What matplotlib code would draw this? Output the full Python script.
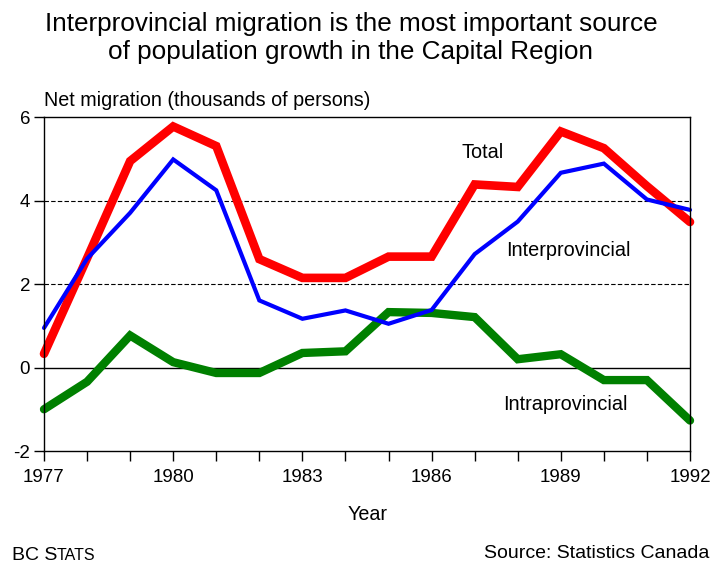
import matplotlib
matplotlib.use("Agg")
import matplotlib.pyplot as plt
from matplotlib.ticker import MultipleLocator, FixedLocator

plt.rcParams['font.family'] = ['Liberation Sans', 'DejaVu Sans']
plt.rcParams['axes.unicode_minus'] = False

years = list(range(1977, 1993))
total = [0.33, 2.62, 4.95, 5.78, 5.31, 2.6, 2.15, 2.15, 2.66, 2.66, 4.39, 4.33, 5.66, 5.26, 4.35, 3.49]
interprovincial = [0.95, 2.61, 3.71, 4.99, 4.25, 1.61, 1.17, 1.37, 1.05, 1.38, 2.72, 3.5, 4.67, 4.89, 4.03, 3.78]
intraprovincial = [-1.0, -0.34, 0.77, 0.13, -0.13, -0.13, 0.35, 0.39, 1.33, 1.31, 1.21, 0.2, 0.32, -0.3, -0.3, -1.27]
ytick_vals = [-2, 0, 2, 4, 6]
xtick_labels = [1977, 1980, 1983, 1986, 1989, 1992]

fig = plt.figure(figsize=(7.11, 5.65), dpi=100)
ax = fig.add_axes([44/711, 1-451/565, (690-44)/711, (451-117.3)/565])

ax.axhline(0, color='black', lw=1.0, zorder=1)
for v in (2, 4):
    ax.axhline(v, color='black', lw=0.8, ls=(0, (4, 2)), zorder=1)

kw = dict(solid_capstyle='round', solid_joinstyle='miter', clip_on=False)
ax.plot(years, total, color='#ff0000', lw=6.2, zorder=3, **kw)
ax.plot(years, intraprovincial, color='#008000', lw=6, zorder=4, **kw)
ax.plot(years, interprovincial, color='#0000ff', lw=3, zorder=5, **kw)

ax.set_xlim(1977, 1992)
ax.set_ylim(-2, 6)
ax.xaxis.set_major_locator(FixedLocator(xtick_labels))
ax.xaxis.set_minor_locator(MultipleLocator(1))
ax.yaxis.set_major_locator(FixedLocator(ytick_vals))
ax.tick_params(axis='both', which='both', direction='out', length=7, width=1, labelsize=13.5)
ax.tick_params(axis='x', which='major', pad=6)
ax.tick_params(axis='y', which='major', pad=3)
for s in ax.spines.values():
    s.set_linewidth(1)
    s.set_zorder(6)

fig.text(483/711, 1-152/565, 'Total', ha='center', va='center', fontsize=14.3)
fig.text(568/711, 1-250/565, 'Interprovincial', ha='center', va='center', fontsize=14.3)
fig.text(565/711, 1-405/565, 'Intraprovincial', ha='center', va='center', fontsize=14.3)

fig.text(351/711, 1-38/565, 'Interprovincial migration is the most important source\nof population growth in the Capital Region',
         ha='center', va='center', fontsize=18.8, linespacing=1.22)
fig.text(44/711, 1-101/565, 'Net migration (thousands of persons)', ha='left', va='center', fontsize=14.2)
fig.text(368/711, 1-514/565, 'Year', ha='center', va='center', fontsize=14.2)
fig.text(12/711, 1-555/565, 'BC S', ha='left', va='center', fontsize=14)
fig.text(57/711, 1-555/565, 'TATS', ha='left', va='center', fontsize=11.5)
fig.text(709/711, 1-553/565, 'Source: Statistics Canada', ha='right', va='center', fontsize=14)

fig.savefig('out.png', dpi=100)
